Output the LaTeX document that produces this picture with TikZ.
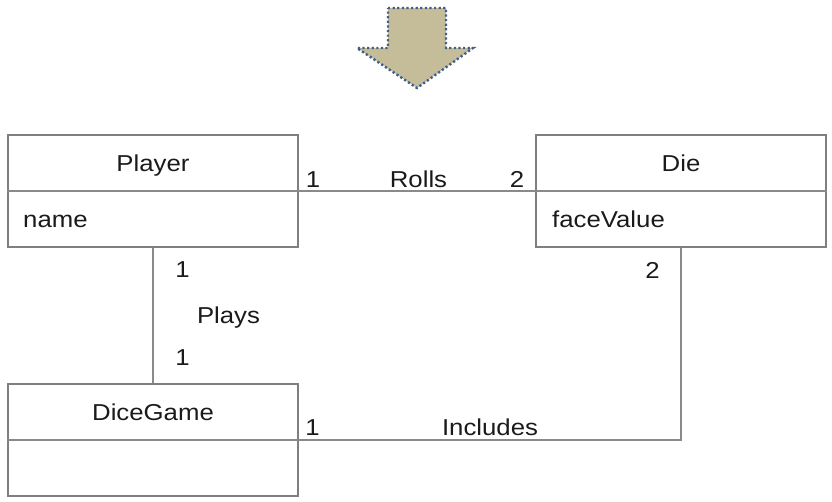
\documentclass[tikz,border=0pt]{standalone}
\usepackage{graphicx}
\usepackage{fontspec}
\setmainfont{Liberation Sans}
\newcommand{\tx}[1]{\scalebox{1.12}[1]{#1}}
\definecolor{boxgray}{HTML}{7F7F7F}
\definecolor{linegray}{HTML}{8A8A8A}
\definecolor{txtcol}{HTML}{1A1A1A}
\definecolor{arrowfill}{HTML}{C5BD99}
\definecolor{arrowdot}{HTML}{3F5E8A}
\begin{document}
\begin{tikzpicture}[x=1pt,y=-1pt,
  classbox/.style={draw=boxgray,line width=1.4pt,minimum width=290pt,minimum height=112pt,inner sep=0pt},
  assoc/.style={draw=linegray,line width=1.3pt},
  lbl/.style={font=\fontsize{23}{27}\selectfont,text=txtcol,inner sep=0pt,anchor=base},
  lblw/.style={lbl,anchor=base west}]
\useasboundingbox (0,0) rectangle (832,501);
% arrow
\draw[fill=arrowfill,draw=arrowdot,line width=2.4pt,dash pattern=on 2.2pt off 2.4pt]
  (388,8) -- (446,8) -- (446,48) -- (473,48) -- (417,88) -- (357,48) -- (388,48) -- cycle;
% classes
\node[classbox] (player) at (153,191) {};
\node[classbox] (die) at (681,191) {};
\node[classbox] (game) at (153,440) {};
\draw[assoc] (player.west) -- (player.east);
\draw[assoc] (die.west) -- (die.east);
\draw[assoc] (game.west) -- (game.east);
% associations
\draw[assoc] (player.east) -- (die.west);
\draw[assoc] (player.south) -- (game.north);
\draw[assoc] (die.south) |- (game.east);
% texts
\node[lbl] (tplayer) at (153,171) {\tx{Player}};
\node[lblw] (tname) at (23,227) {\tx{name}};
\node[lbl] (tdie) at (681,171) {\tx{Die}};
\node[lblw] (tface) at (552,227) {\tx{faceValue}};
\node[lbl] (tgame) at (153,420) {\tx{DiceGame}};
\node[lbl] (r1) at (313,187) {\tx{1}};
\node[lbl] (rolls) at (418.5,187) {\tx{Rolls}};
\node[lbl] (r2) at (517,187) {\tx{2}};
\node[lbl] (p1) at (182.5,277) {\tx{1}};
\node[lbl] (plays) at (228.5,323) {\tx{Plays}};
\node[lbl] (p2) at (182.5,365) {\tx{1}};
\node[lbl] (i2) at (652.5,278) {\tx{2}};
\node[lbl] (i1) at (312.5,435) {\tx{1}};
\node[lbl] (incl) at (490,435) {\tx{Includes}};
\end{tikzpicture}
\end{document}
